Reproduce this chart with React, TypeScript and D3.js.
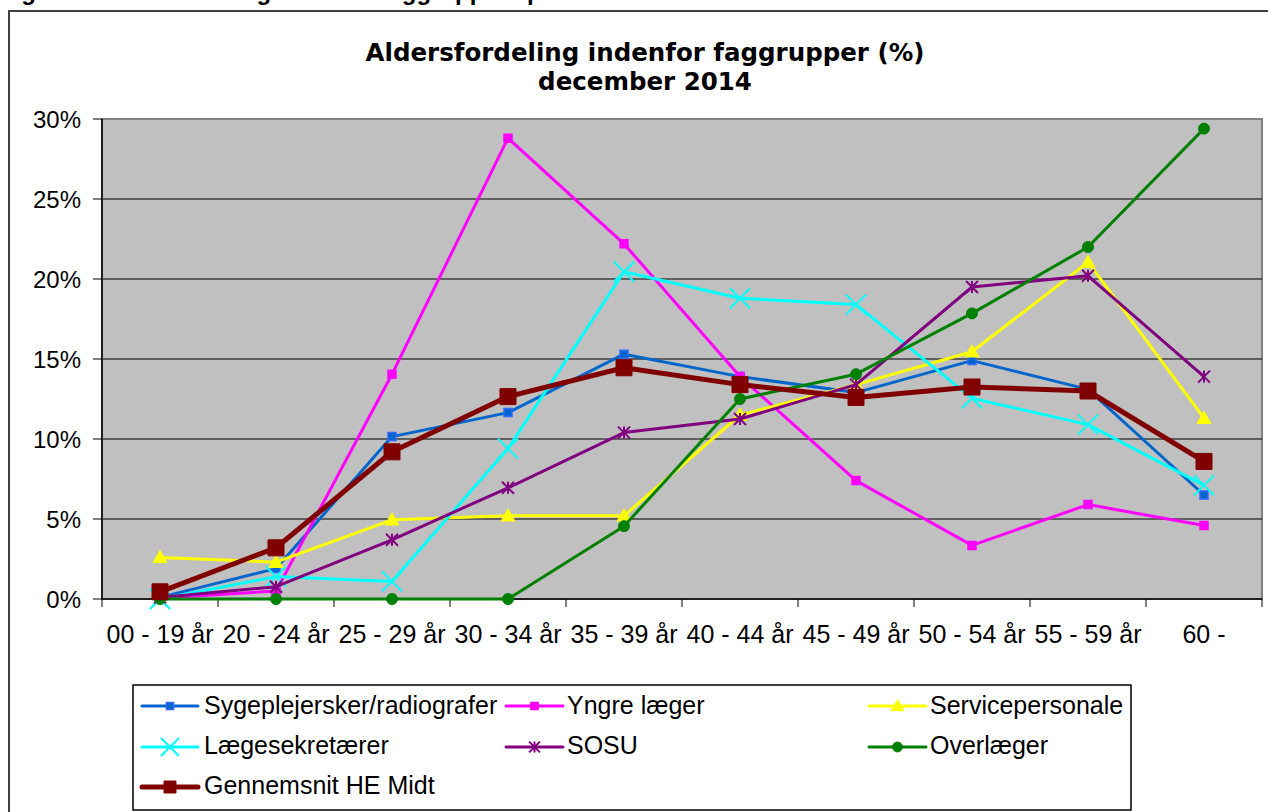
import React from "react";
import * as d3 from "d3";

const categories = ["00 - 19 år", "20 - 24 år", "25 - 29 år", "30 - 34 år", "35 - 39 år", "40 - 44 år", "45 - 49 år", "50 - 54 år", "55 - 59 år", "60 -"];
const yTicks = [0, 5, 10, 15, 20, 25, 30];

const sygeplejersker = [0.1, 1.9, 10.15, 11.65, 15.3, 13.9, 12.9, 14.9, 13.1, 6.5];
const yngreLaeger = [0.05, 0.5, 14.05, 28.8, 22.2, 13.9, 7.4, 3.35, 5.9, 4.6];
const servicepersonale = [2.6, 2.3, 4.95, 5.2, 5.2, 11.5, 13.4, 15.45, 21.05, 11.3];
const laegesekretaerer = [0, 1.4, 1.1, 9.4, 20.45, 18.8, 18.4, 12.55, 10.9, 7.1];
const sosu = [0.1, 0.77, 3.7, 6.95, 10.4, 11.25, 13.4, 19.5, 20.2, 13.9];
const overlaeger = [0, 0, 0, 0, 4.55, 12.5, 14.05, 17.85, 22.0, 29.4];
const gennemsnit = [0.45, 3.2, 9.2, 12.65, 14.45, 13.4, 12.6, 13.25, 13.0, 8.6];

type Marker = "square" | "bigsquare" | "triangle" | "x" | "star" | "circle";
interface Series { name: string; values: number[]; color: string; width: number; marker: Marker; mfill: string; mstroke: string; }

const series: Series[] = [
  { name: "Sygeplejersker/radiografer", values: sygeplejersker, color: "#0066CC", width: 3, marker: "square", mfill: "#0066CC", mstroke: "#3366FF" },
  { name: "Yngre læger", values: yngreLaeger, color: "#FF00FF", width: 3, marker: "square", mfill: "#FF00FF", mstroke: "#FF00FF" },
  { name: "Servicepersonale", values: servicepersonale, color: "#FFFF00", width: 3, marker: "triangle", mfill: "#FFFF00", mstroke: "#FFFF00" },
  { name: "Lægesekretærer", values: laegesekretaerer, color: "#00FFFF", width: 3, marker: "x", mfill: "none", mstroke: "#00FFFF" },
  { name: "SOSU", values: sosu, color: "#800080", width: 3, marker: "star", mfill: "none", mstroke: "#800080" },
  { name: "Overlæger", values: overlaeger, color: "#008000", width: 3, marker: "circle", mfill: "#008000", mstroke: "#008000" },
  { name: "Gennemsnit HE Midt", values: gennemsnit, color: "#800000", width: 5, marker: "bigsquare", mfill: "#800000", mstroke: "#800000" },
];

const plot = { left: 102, right: 1262, top: 119, bottom: 599 };

function markerEl(m: Marker, x: number, y: number, fill: string, stroke: string, key: string, scale = 1) {
  const tr = `translate(${x},${y})`;
  if (m === "square") {
    return <path key={key} transform={tr} d={d3.symbol(d3.symbolSquare, 64 * scale * scale)() || ""} fill={fill} stroke={stroke} strokeWidth={1.5} />;
  }
  if (m === "bigsquare") {
    return <path key={key} transform={tr} d={d3.symbol(d3.symbolSquare, 256 * scale * scale)() || ""} fill={fill} stroke={stroke} strokeWidth={1} />;
  }
  if (m === "triangle") {
    const s = 7 * scale;
    return <path key={key} transform={tr} d={`M0,${-s}L${s},${s * 0.75}L${-s},${s * 0.75}Z`} fill={fill} stroke={stroke} strokeWidth={1} />;
  }
  if (m === "circle") {
    return <circle key={key} cx={x} cy={y} r={5.5 * scale} fill={fill} stroke={stroke} />;
  }
  if (m === "x") {
    const s = 10 * scale;
    return <path key={key} transform={tr} d={`M${-s},${-s}L${s},${s}M${-s},${s}L${s},${-s}`} fill="none" stroke={stroke} strokeWidth={2} />;
  }
  const s = 6 * scale;
  return <path key={key} transform={tr} d={`M0,${-s}L0,${s}M${-s},${-s}L${s},${s}M${-s},${s}L${s},${-s}`} fill="none" stroke={stroke} strokeWidth={2} />;
}

export default function App() {
  const x = d3.scaleBand<string>().domain(categories).range([plot.left, plot.right]).paddingInner(0).paddingOuter(0);
  const cx = (c: string) => (x(c) as number) + x.bandwidth() / 2;
  const y = d3.scaleLinear().domain([0, 30]).range([plot.bottom, plot.top]);
  const line = d3.line<number>().x((_, i) => cx(categories[i])).y((v) => y(v));

  const legendCols = [
    { lx1: 142, lx2: 198, tx: 204 },
    { lx1: 506, lx2: 563, tx: 567 },
    { lx1: 869, lx2: 926, tx: 930 },
  ];
  const legendRows = [{ ly: 706, ty: 714 }, { ly: 747, ty: 754 }, { ly: 787, ty: 794 }];

  const font = "'Liberation Sans', Arial, sans-serif";
  const titleFont = "'DejaVu Sans', Verdana, sans-serif";

  return (
    <svg width={1268} height={812} style={{ position: "absolute", left: 0, top: 0, background: "#fff" }} xmlns="http://www.w3.org/2000/svg">
      <rect x={0} y={0} width={1268} height={812} fill="#fff" />
      <text x={0} y={0} fontFamily={font} fontWeight="bold" fontSize={24} fill="#000">Figur 6: Aldersfordeling indenfor faggrupper i procent</text>
      <rect x={9} y={11} width={1270} height={820} fill="#fff" stroke="#404040" strokeWidth={2} />

      <text x={645} y={61} textAnchor="middle" fontFamily={titleFont} fontWeight="bold" fontSize={24.5} fill="#000">Aldersfordeling indenfor faggrupper (%)</text>
      <text x={645} y={90} textAnchor="middle" fontFamily={titleFont} fontWeight="bold" fontSize={24.5} fill="#000">december 2014</text>

      <rect x={plot.left} y={plot.top} width={plot.right - plot.left} height={plot.bottom - plot.top} fill="#C0C0C0" stroke="#808080" strokeWidth={2} />
      {yTicks.filter((t) => t > 0 && t < 30).map((t) => (
        <line key={"g" + t} x1={plot.left} x2={plot.right} y1={y(t)} y2={y(t)} stroke="#000" strokeWidth={1} />
      ))}
      <line x1={plot.left} x2={plot.left} y1={plot.top} y2={plot.bottom} stroke="#000" strokeWidth={1.5} />
      <line x1={plot.left} x2={plot.right} y1={plot.bottom} y2={plot.bottom} stroke="#000" strokeWidth={1.5} />
      {yTicks.map((t) => (
        <g key={"yt" + t}>
          <line x1={plot.left - 9} x2={plot.left} y1={y(t)} y2={y(t)} stroke="#000" strokeWidth={1} />
          <text x={81} y={y(t) + 8.5} textAnchor="end" fontFamily={font} fontSize={24} fill="#000">{t}%</text>
        </g>
      ))}
      {categories.map((c, i) => (
        <line key={"xt" + i} x1={x(c) as number} x2={x(c) as number} y1={plot.bottom} y2={plot.bottom + 8} stroke="#000" strokeWidth={1} />
      ))}
      <line x1={plot.right} x2={plot.right} y1={plot.bottom} y2={plot.bottom + 8} stroke="#000" strokeWidth={1} />
      {categories.map((c, i) => (
        <text key={"xl" + i} x={cx(c)} y={643} textAnchor="middle" fontFamily={font} fontSize={25} fill="#000">{c}</text>
      ))}

      {series.map((s) => (
        <g key={s.name}>
          <path d={line(s.values) || ""} fill="none" stroke={s.color} strokeWidth={s.width} strokeLinejoin="round" />
          {s.values.map((v, i) => markerEl(s.marker, cx(categories[i]), y(v), s.mfill, s.mstroke, s.name + i))}
        </g>
      ))}

      <rect x={133} y={685} width={998} height={125} fill="#fff" stroke="#000" strokeWidth={1.5} />
      {series.map((s, i) => {
        const col = legendCols[i % 3];
        const row = legendRows[Math.floor(i / 3)];
        const mid = (col.lx1 + col.lx2) / 2;
        return (
          <g key={"lg" + i}>
            <line x1={col.lx1} x2={col.lx2} y1={row.ly} y2={row.ly} stroke={s.color} strokeWidth={s.width} strokeLinecap="round" />
            {markerEl(s.marker, mid, row.ly, s.mfill, s.mstroke, "lm" + i, s.marker === "bigsquare" ? 0.75 : 0.9)}
            <text x={col.tx} y={row.ty} fontFamily={font} fontSize={25} fill="#000">{s.name}</text>
          </g>
        );
      })}
    </svg>
  );
}
